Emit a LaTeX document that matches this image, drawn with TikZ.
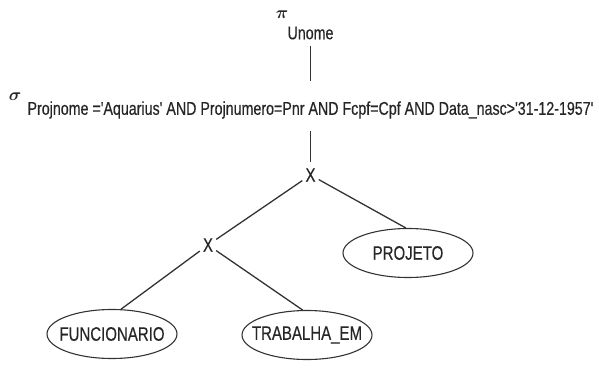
\documentclass[tikz,border=0pt]{standalone}
\usepackage{fontspec}
\newfontfamily\narrowfont{Liberation Sans}[FakeStretch=0.77, FakeBold=0.4]
\usepackage{tikz}
\usetikzlibrary{shapes.geometric}
\newcommand{\relname}[1]{\makebox[0pt]{#1}}
\tikzset{
	opname/.style={inner sep=0pt, text=black!85, font=\narrowfont\fontsize{18.5}{20}\selectfont},
	greek/.style={inner sep=0pt, text=black!85, font=\boldmath\fontsize{17}{20}\selectfont},
	prod/.style={inner sep=3pt, text=black!85, font=\narrowfont\fontsize{19.5}{21}\selectfont},
	rel/.style={draw=black!80, line width=1.1pt, ellipse, minimum width=130pt, minimum height=49pt, inner sep=0pt, text=black!85, font=\narrowfont\fontsize{19.5}{21}\selectfont},
	edge/.style={draw=black!80, line width=1.3pt}
}

\begin{document}
\begin{tikzpicture}[x=1pt, y=-1pt]
		%%%%% START %%%%%
		\useasboundingbox (0, 0) rectangle (599, 367);
		
		% projecao
		\node[greek] (pi) at (282, 15) {$\pi$};
		\node[opname] (proj) at (310.5, 33) {Unome};
		
		% selecao
		\node[greek] (sigma) at (15, 97) {$\sigma$};
		\node[opname] (cond) at (310.5, 110) {Projnome ='Aquarius' AND Projnumero=Pnr AND Fcpf=Cpf AND Data\_nasc>'31-12-1957'};
		
		% produtos
		\node[prod] (xa) at (310.5, 175) {X};
		\node[prod] (xb) at (208, 245) {X};
		
		% relacoes
		\node[rel] (projeto) at (408, 253) {\relname{PROJETO}};
		\node[rel] (func) at (112, 334) {\relname{FUNCIONARIO}};
		\node[rel] (trab) at (307, 335) {\relname{TRABALHA\_EM}};
		
		\draw[edge, shorten <=6pt, shorten >=20pt] (proj) -- (cond);
		\draw[edge, shorten <=12pt, shorten >=3pt] (cond) -- (xa);
		\draw[edge] (xa) -- (xb);
		\draw[edge] (xa) -- (projeto.95);
		\draw[edge] (xb) -- (func.70);
		\draw[edge] (xb) -- (trab.100);
		%%%%% END %%%%%
\end{tikzpicture}
\end{document}
